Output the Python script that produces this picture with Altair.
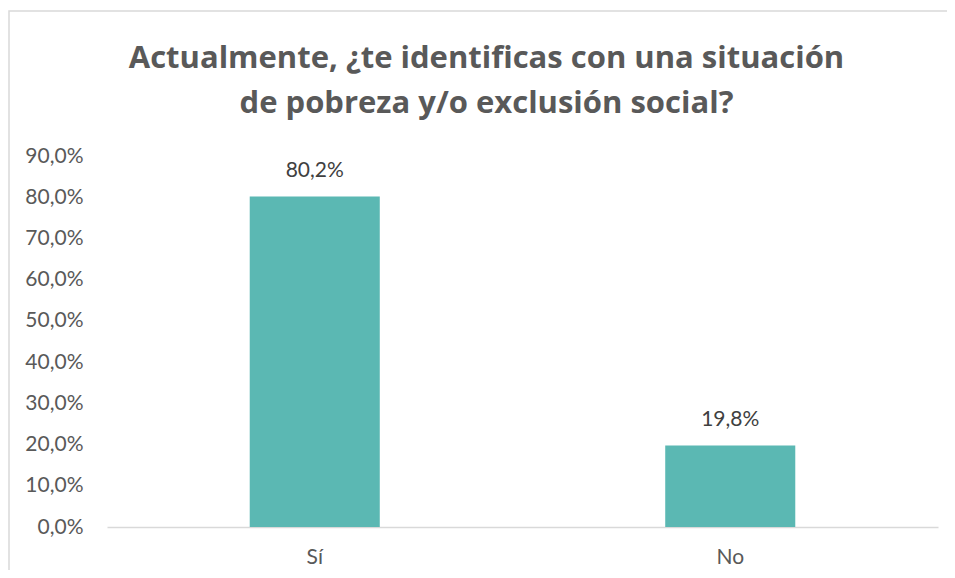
import altair as alt
import pandas as pd

categories = ["Sí", "No"]
values = [0.802, 0.198]
labels = ["80,2%", "19,8%"]
title_lines = ["Actualmente, ¿te identificas con una situación", "de pobreza y/o exclusión social?"]

df = pd.DataFrame({"cat": categories, "val": values, "lbl": labels})

FONT = "Lato"
W, H = 831, 371

base = alt.Chart(df)

frame = base.mark_rect(fill=None, stroke="#D9D9D9", strokeWidth=1.5).encode(
    x=alt.value(-98), x2=alt.value(870), y=alt.value(-145), y2=alt.value(460)
).transform_filter(alt.datum.cat == "Sí")

bars = base.mark_bar(color="#5BB8B3").encode(
    x=alt.X("cat:N", sort=categories,
            scale=alt.Scale(paddingInner=0.687, paddingOuter=0.3435),
            axis=alt.Axis(title=None, labelAngle=0, ticks=False, domainColor="#D9D9D9",
                          domainWidth=1.5, labelFont=FONT, labelFontSize=21,
                          labelColor="#595959", labelPadding=19)),
    y=alt.Y("val:Q", scale=alt.Scale(domain=[0, 0.9], nice=False),
            axis=alt.Axis(title=None, values=[i / 10 for i in range(10)],
                          labelExpr="replace(format(datum.value*100, '.1f'), '.', ',') + '%'",
                          grid=False, domain=False, ticks=False, labelFont=FONT,
                          labelFontSize=21, labelColor="#595959", labelPadding=24)),
)

text = base.mark_text(font=FONT, fontSize=21, color="#404040", baseline="middle", dy=-25).encode(
    x=alt.X("cat:N", sort=categories), y="val:Q", text="lbl:N"
)

chart = alt.layer(frame, bars, text).properties(
    width=W, height=H,
    title=alt.TitleParams(title_lines, font="Open Sans", fontSize=31, fontWeight="bold",
                          color="#595959", anchor="middle", dx=-36, offset=-134,
                          lineHeight=45, baseline="alphabetic"),
    autosize=alt.AutoSizeParams(type="none"),
    padding={"left": 99, "top": 148, "right": 9, "bottom": 43},
).configure_view(stroke=None)

chart.save("out.html", embed_options={"renderer": "svg", "actions": False})
